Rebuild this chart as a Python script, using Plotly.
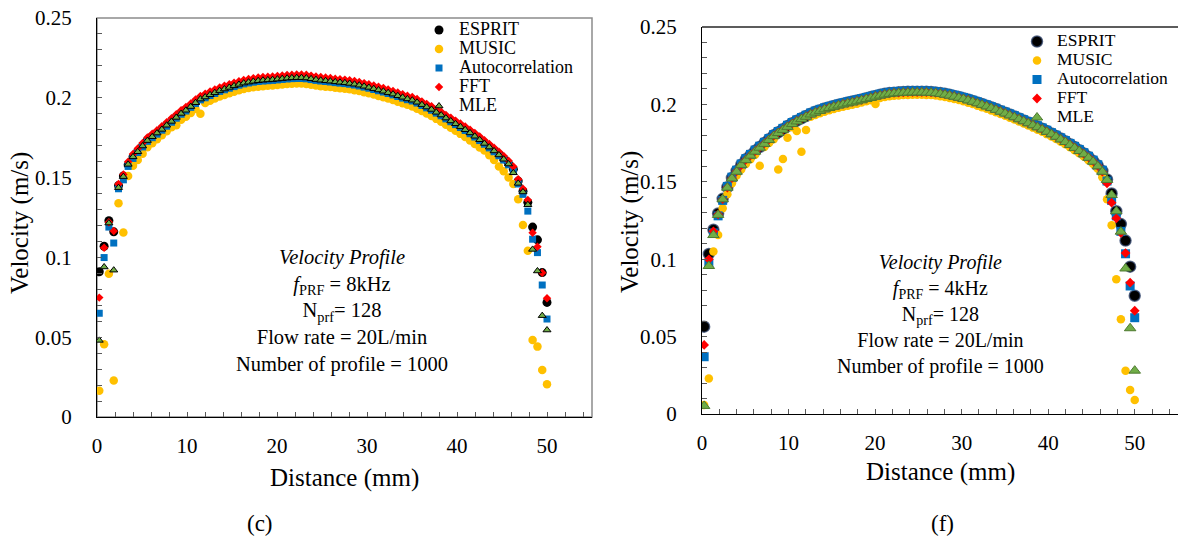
import plotly.graph_objects as go

# ---------------- data ----------------
distance_mm = [
    0.25, 0.79, 1.32, 1.86, 2.39, 2.93, 3.46, 4.0, 4.53, 5.07,
    5.6, 6.14, 6.67, 7.21, 7.74, 8.28, 8.81, 9.35, 9.88, 10.42,
    10.95, 11.49, 12.02, 12.56, 13.09, 13.63, 14.16, 14.7, 15.23, 15.77,
    16.3, 16.84, 17.37, 17.91, 18.44, 18.98, 19.51, 20.05, 20.58, 21.12,
    21.65, 22.19, 22.72, 23.26, 23.79, 24.33, 24.86, 25.4, 25.93, 26.47,
    27.0, 27.54, 28.07, 28.61, 29.14, 29.68, 30.21, 30.75, 31.28, 31.82,
    32.35, 32.89, 33.42, 33.96, 34.49, 35.03, 35.56, 36.1, 36.63, 37.17,
    37.7, 38.24, 38.77, 39.31, 39.84, 40.38, 40.91, 41.45, 41.98, 42.52,
    43.05, 43.59, 44.12, 44.66, 45.19, 45.73, 46.26, 46.8, 47.33, 47.87,
    48.4, 48.94, 49.47, 50.0]

# ----- panel (c): fPRF = 8 kHz -----
esprit_c = [
    0.091, 0.107, 0.123, 0.116, 0.145, 0.151, 0.158, 0.163, 0.1665, 0.170,
    0.1735, 0.1758, 0.178, 0.1805, 0.183, 0.1855, 0.188, 0.1905, 0.1925, 0.1948,
    0.1972, 0.1995, 0.2008, 0.2022, 0.2035, 0.2048, 0.2058, 0.2068, 0.2078, 0.2087,
    0.2095, 0.2101, 0.2106, 0.211, 0.2113, 0.2115, 0.2117, 0.212, 0.2123, 0.2126,
    0.2128, 0.2129, 0.2129, 0.2127, 0.2122, 0.2117, 0.2113, 0.211, 0.2107, 0.2103,
    0.21, 0.2097, 0.2093, 0.2088, 0.2082, 0.2075, 0.2068, 0.206, 0.2052, 0.2044,
    0.2035, 0.2026, 0.2016, 0.2006, 0.1996, 0.1988, 0.1975, 0.196, 0.1945, 0.193,
    0.1912, 0.1895, 0.1876, 0.1858, 0.184, 0.1822, 0.1803, 0.1783, 0.1762, 0.174,
    0.1717, 0.1694, 0.167, 0.1645, 0.1618, 0.1588, 0.1553, 0.1478, 0.1415, 0.1345,
    0.119, 0.111, 0.0905, 0.0718]
music_c = [
    0.0165, 0.0456, 0.0897, 0.0228, 0.134, 0.1156, 0.151, 0.1575, 0.161, 0.165,
    0.169, 0.1715, 0.174, 0.1765, 0.179, 0.1815, 0.1828, 0.1862, 0.1882, 0.1905,
    0.193, 0.190, 0.1968, 0.1982, 0.1995, 0.2008, 0.2018, 0.2028, 0.2038, 0.2047,
    0.2055, 0.2061, 0.2066, 0.207, 0.2073, 0.2075, 0.2077, 0.208, 0.2083, 0.2086,
    0.2088, 0.2089, 0.2089, 0.2087, 0.2082, 0.2077, 0.2073, 0.207, 0.2067, 0.2063,
    0.206, 0.2057, 0.2053, 0.2048, 0.2042, 0.2035, 0.2028, 0.202, 0.2012, 0.2004,
    0.1995, 0.1986, 0.1976, 0.1966, 0.1956, 0.1945, 0.1932, 0.1917, 0.1902, 0.1886,
    0.1868, 0.185, 0.1831, 0.1812, 0.1793, 0.1774, 0.1754, 0.1733, 0.1711, 0.1688,
    0.167, 0.164, 0.161, 0.157, 0.154, 0.150, 0.146, 0.1365, 0.1203, 0.1042,
    0.0483, 0.0441, 0.0295, 0.0205]
autocorr_c = [
    0.065, 0.0999, 0.119, 0.109, 0.143, 0.1486, 0.157, 0.162, 0.1657, 0.1692,
    0.1727, 0.175, 0.1772, 0.1797, 0.1822, 0.1847, 0.1872, 0.1897, 0.1917, 0.194,
    0.1964, 0.1987, 0.2, 0.2014, 0.2027, 0.204, 0.205, 0.206, 0.207, 0.2079,
    0.2087, 0.2093, 0.2098, 0.2102, 0.2105, 0.2107, 0.2109, 0.2112, 0.2115, 0.2118,
    0.212, 0.2121, 0.2121, 0.2119, 0.2114, 0.2109, 0.2105, 0.2102, 0.2099, 0.2095,
    0.2092, 0.2089, 0.2085, 0.208, 0.2074, 0.2067, 0.206, 0.2052, 0.2044, 0.2036,
    0.2027, 0.2018, 0.2008, 0.1998, 0.1988, 0.198, 0.1967, 0.1952, 0.1937, 0.1922,
    0.1904, 0.1887, 0.1868, 0.185, 0.1832, 0.1814, 0.1795, 0.1775, 0.1754, 0.1732,
    0.1709, 0.1686, 0.1662, 0.1637, 0.161, 0.158, 0.154, 0.146, 0.1395, 0.129,
    0.1114, 0.103, 0.0827, 0.0614]
fft_c = [
    0.0748, 0.106, 0.122, 0.1166, 0.146, 0.152, 0.16, 0.1648, 0.1682, 0.1717,
    0.1752, 0.1775, 0.1797, 0.1822, 0.1847, 0.1872, 0.1897, 0.1922, 0.1942, 0.1965,
    0.1989, 0.2012, 0.2025, 0.2039, 0.2052, 0.2065, 0.2075, 0.2085, 0.2095, 0.2104,
    0.2112, 0.2118, 0.2123, 0.2127, 0.213, 0.2132, 0.2134, 0.2137, 0.214, 0.2143,
    0.2145, 0.2146, 0.2146, 0.2144, 0.2139, 0.2134, 0.213, 0.2127, 0.2124, 0.212,
    0.2117, 0.2114, 0.211, 0.2105, 0.2099, 0.2092, 0.2085, 0.2077, 0.2069, 0.2061,
    0.2052, 0.2043, 0.2033, 0.2023, 0.2013, 0.2005, 0.1992, 0.1977, 0.1962, 0.1947,
    0.1929, 0.1912, 0.1893, 0.1875, 0.1857, 0.1839, 0.182, 0.18, 0.1779, 0.1757,
    0.1734, 0.1711, 0.1687, 0.1662, 0.1635, 0.1605, 0.157, 0.149, 0.143, 0.136,
    0.1155, 0.1067, 0.0904, 0.0744]
mle_c = [
    0.048, 0.094, 0.1215, 0.092, 0.1437, 0.1506, 0.1583, 0.163, 0.1662, 0.1698,
    0.1732, 0.1756, 0.1779, 0.1802, 0.1828, 0.1852, 0.1877, 0.1902, 0.1922, 0.1945,
    0.1969, 0.1992, 0.2005, 0.2019, 0.2032, 0.2045, 0.2055, 0.2065, 0.2075, 0.2084,
    0.2092, 0.2098, 0.2103, 0.2107, 0.211, 0.2112, 0.2114, 0.2117, 0.212, 0.2123,
    0.2125, 0.2126, 0.2126, 0.2124, 0.2119, 0.2114, 0.211, 0.2107, 0.2104, 0.21,
    0.2097, 0.2094, 0.209, 0.2085, 0.2079, 0.2072, 0.2065, 0.2057, 0.2049, 0.2041,
    0.2032, 0.2023, 0.2013, 0.2003, 0.1993, 0.1985, 0.1972, 0.1957, 0.1942, 0.1927,
    0.1909, 0.1892, 0.1873, 0.1855, 0.1837, 0.1819, 0.18, 0.178, 0.1759, 0.1737,
    0.1714, 0.1691, 0.1667, 0.1642, 0.1615, 0.1585, 0.153, 0.1464, 0.141, 0.133,
    0.105, 0.0915, 0.0635, 0.0545]

# ----- panel (f): fPRF = 4 kHz -----
esprit_f = [
    0.0564, 0.1034, 0.119, 0.1296, 0.139, 0.1465, 0.1525, 0.157, 0.161, 0.1645,
    0.1672, 0.170, 0.1725, 0.175, 0.1775, 0.180, 0.182, 0.184, 0.186, 0.1878,
    0.1895, 0.191, 0.1925, 0.194, 0.1952, 0.1963, 0.1973, 0.1982, 0.199, 0.1998,
    0.2005, 0.2012, 0.2018, 0.2025, 0.2032, 0.204, 0.2047, 0.2055, 0.2062, 0.2068,
    0.2073, 0.2076, 0.2078, 0.208, 0.2081, 0.2082, 0.2082, 0.2082, 0.2081, 0.208,
    0.2077, 0.2073, 0.2068, 0.2062, 0.2055, 0.2048, 0.204, 0.2031, 0.2022, 0.2012,
    0.2002, 0.1992, 0.1981, 0.197, 0.1958, 0.1946, 0.1934, 0.1922, 0.1909, 0.1896,
    0.1883, 0.187, 0.1857, 0.1843, 0.1828, 0.1812, 0.1796, 0.1779, 0.1762, 0.1743,
    0.1724, 0.1704, 0.1683, 0.166, 0.1635, 0.1605, 0.157, 0.1515, 0.1425, 0.131,
    0.1227, 0.112, 0.0952, 0.0764]
music_f = [
    0.0058, 0.023, 0.105, 0.1156, 0.1329, 0.142, 0.149, 0.154, 0.158, 0.1615,
    0.1645, 0.1675, 0.1604, 0.1725, 0.175, 0.1775, 0.158, 0.1647, 0.1785, 0.1853,
    0.1828, 0.1694, 0.1835, 0.192, 0.1932, 0.1943, 0.1953, 0.1962, 0.197, 0.1978,
    0.1985, 0.1992, 0.1998, 0.2005, 0.2012, 0.202, 0.2027, 0.2003, 0.2042, 0.2048,
    0.2053, 0.2056, 0.2058, 0.206, 0.2061, 0.2062, 0.2062, 0.2062, 0.2061, 0.206,
    0.2057, 0.2053, 0.2048, 0.2042, 0.2035, 0.2028, 0.202, 0.2011, 0.2002, 0.1992,
    0.1982, 0.1972, 0.1961, 0.195, 0.1938, 0.1926, 0.1914, 0.1902, 0.1889, 0.1876,
    0.1863, 0.185, 0.1837, 0.1823, 0.1808, 0.1792, 0.1776, 0.1759, 0.1742, 0.1723,
    0.1704, 0.1684, 0.1663, 0.164, 0.1615, 0.1585, 0.153, 0.1387, 0.122, 0.087,
    0.0612, 0.028, 0.0155, 0.009]
autocorr_f = [
    0.037, 0.0973, 0.117, 0.128, 0.138, 0.147, 0.153, 0.1575, 0.1615, 0.165,
    0.1677, 0.1705, 0.173, 0.1755, 0.178, 0.1805, 0.1825, 0.1845, 0.1865, 0.1883,
    0.19, 0.1915, 0.193, 0.1945, 0.1957, 0.1968, 0.1978, 0.1987, 0.1995, 0.2003,
    0.201, 0.2017, 0.2023, 0.203, 0.2037, 0.2045, 0.2052, 0.206, 0.2067, 0.2073,
    0.2078, 0.2081, 0.2083, 0.2085, 0.2086, 0.2087, 0.2087, 0.2087, 0.2086, 0.2085,
    0.2082, 0.2078, 0.2073, 0.2067, 0.206, 0.2053, 0.2045, 0.2036, 0.2027, 0.2017,
    0.2007, 0.1997, 0.1986, 0.1975, 0.1963, 0.1951, 0.1939, 0.1927, 0.1914, 0.1901,
    0.1888, 0.1875, 0.1862, 0.1848, 0.1833, 0.1817, 0.1801, 0.1784, 0.1767, 0.1748,
    0.1729, 0.1709, 0.1688, 0.1665, 0.164, 0.161, 0.1575, 0.1505, 0.138, 0.128,
    0.118, 0.1035, 0.0827, 0.0622]
fft_f = [
    0.0446, 0.0999, 0.118, 0.129, 0.1388, 0.1463, 0.1523, 0.1568, 0.1608, 0.1643,
    0.167, 0.1698, 0.1723, 0.1748, 0.1773, 0.1798, 0.1818, 0.1838, 0.1858, 0.1876,
    0.1893, 0.1908, 0.1923, 0.1938, 0.195, 0.1961, 0.1971, 0.198, 0.1988, 0.1996,
    0.2003, 0.201, 0.2016, 0.2023, 0.203, 0.2038, 0.2045, 0.2053, 0.206, 0.2066,
    0.2071, 0.2074, 0.2076, 0.2078, 0.2079, 0.208, 0.208, 0.208, 0.2079, 0.2078,
    0.2075, 0.2071, 0.2066, 0.206, 0.2053, 0.2046, 0.2038, 0.2029, 0.202, 0.201,
    0.2, 0.199, 0.1979, 0.1968, 0.1956, 0.1944, 0.1932, 0.192, 0.1907, 0.1894,
    0.1881, 0.1868, 0.1855, 0.1841, 0.1826, 0.181, 0.1794, 0.1777, 0.176, 0.1741,
    0.1722, 0.1702, 0.1681, 0.1658, 0.1633, 0.1603, 0.1565, 0.149, 0.1365, 0.1264,
    0.117, 0.104, 0.0848, 0.0667]
mle_f = [
    0.0052, 0.0956, 0.1156, 0.1286, 0.1387, 0.1462, 0.1522, 0.1565, 0.1609, 0.164,
    0.1669, 0.1695, 0.172, 0.1745, 0.177, 0.1795, 0.1815, 0.1835, 0.1855, 0.1873,
    0.189, 0.1905, 0.192, 0.1935, 0.1947, 0.1958, 0.1968, 0.1977, 0.1985, 0.1993,
    0.2, 0.2007, 0.2013, 0.202, 0.2027, 0.2035, 0.2042, 0.205, 0.2057, 0.2063,
    0.2068, 0.2071, 0.2073, 0.2075, 0.2076, 0.2077, 0.2077, 0.2077, 0.2076, 0.2075,
    0.2072, 0.2068, 0.2063, 0.2057, 0.205, 0.2043, 0.2035, 0.2026, 0.2017, 0.2007,
    0.1997, 0.1987, 0.1976, 0.1965, 0.1953, 0.1941, 0.1929, 0.1917, 0.1904, 0.1891,
    0.1878, 0.1865, 0.1852, 0.1838, 0.1823, 0.1807, 0.1791, 0.1774, 0.1757, 0.1738,
    0.1719, 0.1699, 0.1678, 0.1655, 0.163, 0.16, 0.1565, 0.1512, 0.1415, 0.131,
    0.1178, 0.094, 0.0554, 0.028]

method_names = ["ESPRIT", "MUSIC", "Autocorrelation", "FFT", "MLE"]
x_ticks = [0, 10, 20, 30, 40, 50]

# ---------------- styling ----------------
FONT = "Liberation Serif"
W, H = 1178, 540

styles_c = [
    dict(symbol="circle", size=9, color="#000000"),
    dict(symbol="circle", size=8.5, color="#FFC000"),
    dict(symbol="square", size=7, color="#0070C0"),
    dict(symbol="diamond", size=6.5, color="#FF0000"),
    dict(symbol="triangle-up", size=7, color="#70AD47", line=dict(color="#000000", width=1)),
]
styles_f = [
    dict(symbol="circle", size=11, color="#000000", line=dict(color="rgba(50,70,110,0.75)", width=1.5)),
    dict(symbol="circle", size=8.5, color="#FFC000"),
    dict(symbol="square", size=9, color="#0070C0"),
    dict(symbol="diamond", size=7.5, color="#FF0000"),
    dict(symbol="triangle-up", size=10, color="#70AD47", line=dict(color="#4E7A30", width=1)),
]

fig = go.Figure()
series_c = [esprit_c, music_c, autocorr_c, fft_c, mle_c]
series_f = [esprit_f, music_f, autocorr_f, fft_f, mle_f]

for name, ys, st in zip(method_names, series_c, styles_c):
    fig.add_trace(go.Scatter(
        x=distance_mm, y=ys, mode="markers", marker=st,
        name=f"<span style='font-size:18px'>{name}</span>",
        xaxis="x", yaxis="y", legend="legend"))
for name, ys, st in zip(method_names, series_f, styles_f):
    fig.add_trace(go.Scatter(
        x=distance_mm, y=ys, mode="markers", marker=st,
        name=f"<span style='font-size:17.5px'>{name}</span>",
        xaxis="x2", yaxis="y2", legend="legend2"))


def px_x(p):
    return p / W


def px_y(p):
    return 1 - p / H


tickcol = "#595959"
common_x = dict(range=[0, 55], tickvals=x_ticks, ticks="inside", ticklen=5,
                tickcolor=tickcol, showline=True, linecolor="#000000", linewidth=1.3,
                showgrid=False, zeroline=False, ticklabelstandoff=10, automargin=False,
                tickfont=dict(family=FONT, size=21, color="#000000"),
                minor=dict(dtick=2, tick0=0, ticks="inside", ticklen=5, tickcolor=tickcol))
common_y = dict(range=[0, 0.25], dtick=0.05, tick0=0, ticks="inside", ticklen=5,
                tickcolor=tickcol, showline=True, linecolor="#000000", linewidth=1.3,
                showgrid=False, zeroline=False, ticklabelstandoff=20, automargin=False,
                tickfont=dict(family=FONT, size=21, color="#000000"),
                minor=dict(dtick=0.01, tick0=0, ticks="inside", ticklen=5, tickcolor=tickcol))

fig.update_layout(
    width=W, height=H, margin=dict(l=0, r=0, t=0, b=0, autoexpand=False),
    paper_bgcolor="white", plot_bgcolor="white",
    font=dict(family=FONT, color="#000000"),
    xaxis=dict(domain=[px_x(97), px_x(592)], anchor="y", **common_x),
    yaxis=dict(domain=[px_y(417), px_y(18)], anchor="x", **common_y),
    xaxis2=dict(domain=[px_x(702), 1.0], anchor="y2", **common_x),
    yaxis2=dict(domain=[px_y(414), px_y(27)], anchor="x2", **common_y),
    legend=dict(x=px_x(419), y=px_y(15.5), xanchor="left", yanchor="top",
                bgcolor="rgba(0,0,0,0)", font=dict(family=FONT, size=12, color="#000000"),
                itemsizing="trace", tracegroupgap=0),
    legend2=dict(x=px_x(1017), y=px_y(27), xanchor="left", yanchor="top",
                 bgcolor="rgba(0,0,0,0)", font=dict(family=FONT, size=12, color="#000000"),
                 itemsizing="trace", tracegroupgap=0),
    showlegend=True,
)

# plot frames
fig.add_shape(type="rect", xref="x domain", yref="y domain", x0=0, x1=1, y0=0, y1=1,
              line=dict(color="#8C8C8C", width=1.5), layer="below")
fig.add_shape(type="line", xref="x2 domain", yref="y2 domain", x0=0, x1=1, y0=1, y1=1,
              line=dict(color="#262626", width=1.5), layer="below")

info_c = ("<i>Velocity Profile</i><br><i>f</i><sub>PRF</sub> = 8kHz<br>"
          "N<sub>prf</sub>= 128<br>Flow rate = 20L/min<br>Number of profile = 1000")
info_f = ("<i>Velocity Profile</i><br><i>f</i><sub>PRF</sub> = 4kHz<br>"
          "N<sub>prf</sub>= 128<br>Flow rate = 20L/min<br>Number of profile = 1000")

fig.add_annotation(text=info_c, x=27.2, y=0.0665, xref="x", yref="y", showarrow=False,
                   xanchor="center", yanchor="middle",
                   align="center", font=dict(family=FONT, size=20.5, color="#000000"))
fig.add_annotation(text=info_f, x=27.5, y=0.064, xref="x2", yref="y2", showarrow=False,
                   xanchor="center", yanchor="middle",
                   align="center", font=dict(family=FONT, size=20, color="#000000"))

title_font = dict(family=FONT, size=25, color="#000000")
for (xp, yp) in [(20, 223), (630, 222)]:
    fig.add_annotation(text="Velocity (m/s)", x=px_x(xp), y=px_y(yp), xref="paper", yref="paper",
                       xanchor="center", yanchor="middle",
                       showarrow=False, textangle=-90, font=title_font)
for (xp, yp) in [(344, 478), (940, 472)]:
    fig.add_annotation(text="Distance (mm)", x=px_x(xp), y=px_y(yp), xref="paper", yref="paper",
                       xanchor="center", yanchor="middle",
                       showarrow=False, font=title_font)
for (lab, xp, yp) in [("(c)", 260, 523), ("(f)", 942, 523)]:
    fig.add_annotation(text=lab, x=px_x(xp), y=px_y(yp), xref="paper", yref="paper",
                       xanchor="center", yanchor="middle",
                       showarrow=False, font=dict(family=FONT, size=23, color="#000000"))

fig.write_html("out.html")
